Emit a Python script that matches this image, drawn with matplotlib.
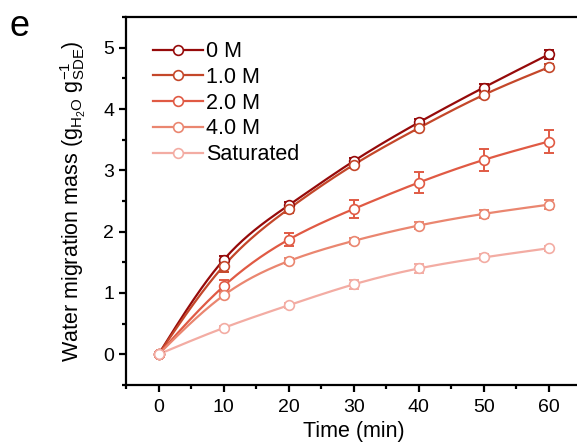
import numpy as np
import matplotlib
matplotlib.use('Agg')
import matplotlib.pyplot as plt
from matplotlib.ticker import MultipleLocator

plt.rcParams['font.family'] = ['Liberation Sans', 'DejaVu Sans']
plt.rcParams['mathtext.fontset'] = 'custom'
plt.rcParams['mathtext.rm'] = 'Liberation Sans'
plt.rcParams['mathtext.it'] = 'Liberation Sans:italic'

time = [0, 10, 20, 30, 40, 50, 60]
labels = ['0 M', '1.0 M', '2.0 M', '4.0 M', 'Saturated']
m0 = [0, 1.54, 2.43, 3.15, 3.78, 4.35, 4.89]
m1 = [0, 1.44, 2.37, 3.09, 3.69, 4.23, 4.68]
m2 = [0, 1.11, 1.87, 2.37, 2.80, 3.17, 3.47]
m4 = [0, 0.96, 1.52, 1.85, 2.10, 2.29, 2.44]
sat = [0, 0.43, 0.80, 1.14, 1.40, 1.58, 1.73]
e0 = [0, 0.06, 0.05, 0.05, 0.05, 0.05, 0.07]
e1 = [0, 0.10, 0.06, 0.05, 0.05, 0.05, 0.05]
e2 = [0, 0.10, 0.11, 0.15, 0.17, 0.18, 0.18]
e4 = [0, 0.04, 0.05, 0.05, 0.06, 0.06, 0.07]
esat = [0, 0.04, 0.04, 0.07, 0.07, 0.05, 0.04]
colors = ['#960a0a', '#c4472a', '#e05a44', '#ea8670', '#f3aca3']


def spline(x, y, n=200):
    # natural cubic spline through the points
    x = np.asarray(x, float)
    y = np.asarray(y, float)
    k = len(x)
    h = np.diff(x)
    A = np.zeros((k, k))
    b = np.zeros(k)
    A[0, 0] = A[-1, -1] = 1
    for i in range(1, k - 1):
        A[i, i - 1] = h[i - 1]
        A[i, i] = 2 * (h[i - 1] + h[i])
        A[i, i + 1] = h[i]
        b[i] = 6 * ((y[i + 1] - y[i]) / h[i] - (y[i] - y[i - 1]) / h[i - 1])
    M = np.linalg.solve(A, b)
    xs = np.linspace(x[0], x[-1], n)
    idx = np.clip(np.searchsorted(x, xs) - 1, 0, k - 2)
    x0, x1 = x[idx], x[idx + 1]
    hh = x1 - x0
    ys = (M[idx] * (x1 - xs) ** 3 / (6 * hh) + M[idx + 1] * (xs - x0) ** 3 / (6 * hh)
          + (y[idx] / hh - M[idx] * hh / 6) * (x1 - xs)
          + (y[idx + 1] / hh - M[idx + 1] * hh / 6) * (xs - x0))
    return xs, ys


fig = plt.figure(figsize=(5.77, 4.44), dpi=100)
ax = fig.add_axes([0.2184, 0.1329, 0.789, 0.8288])

series = [m0, m1, m2, m4, sat]
errs = [e0, e1, e2, e4, esat]
for i in range(len(series)):
    c = colors[i]
    xs, ys = spline(time, series[i])
    ax.plot(xs, ys, color=c, lw=1.6, zorder=2 + i * 0.1)
    ax.errorbar(time, series[i], yerr=errs[i], fmt='none', ecolor=c,
                elinewidth=1.4, capsize=3.5, capthick=1.4, zorder=3)
    ax.plot(time, series[i], 'o', ms=7, mfc='white', mec=c, mew=1.2, zorder=4)
    ax.plot([], [], '-o', color=c, lw=1.6, ms=7, mfc='white', mec=c, mew=1.2,
            label=labels[i])

ax.set_xlim(-5, 65)
ax.set_ylim(-0.5, 5.5)
ax.xaxis.set_major_locator(MultipleLocator(10))
ax.xaxis.set_minor_locator(MultipleLocator(5))
ax.yaxis.set_major_locator(MultipleLocator(1))
ax.yaxis.set_minor_locator(MultipleLocator(0.5))
for s in ['left', 'bottom', 'top', 'right']:
    ax.spines[s].set_linewidth(1.6)
ax.tick_params(which='major', direction='out', length=5, width=1.6, labelsize=14)
ax.tick_params(axis='x', which='major', pad=5)
ax.tick_params(which='minor', direction='out', length=3, width=1.6)
ax.set_xlabel('Time (min)', fontsize=15.5, labelpad=4)
ax.set_ylabel(r'Water migration mass (g$_{\mathrm{H_2O}}$ g$_{\mathrm{SDE}}^{-1}$)',
              fontsize=15.5, labelpad=11)

ax.legend(loc='upper left', frameon=False, fontsize=15.5, handlelength=2.3,
          handletextpad=0.15, labelspacing=0.22, borderaxespad=0.3,
          bbox_to_anchor=(0.027, 0.975))
fig.text(0.017, 0.918, 'e', fontsize=26)

fig.savefig('out.png', dpi=100)
